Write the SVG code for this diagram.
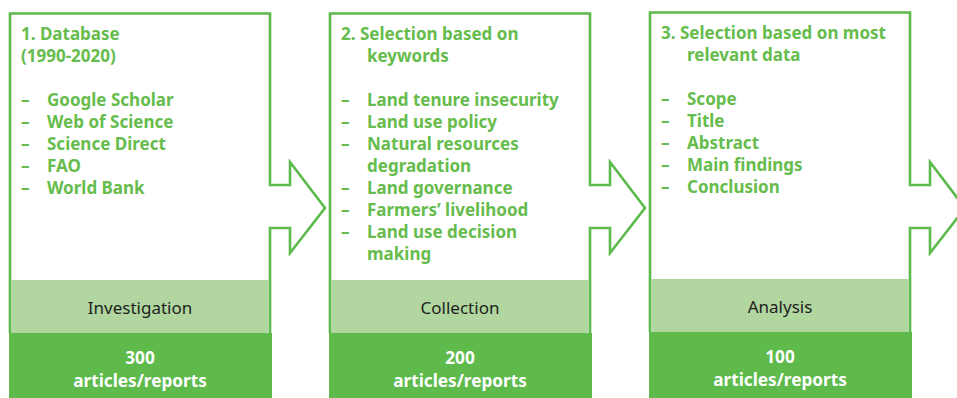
<svg xmlns="http://www.w3.org/2000/svg" width="957" height="398" viewBox="0 0 957 398">
<style>
.outline{fill:#fff;stroke:#5cb94b;stroke-width:2.6}
.light{fill:#b1d69f}
.dark{fill:#5dba4b}
.t{font-family:"Noto Sans","Open Sans",sans-serif;font-weight:bold;font-size:17px;fill:#66bc4c}
.lab{font-family:"Noto Sans","Open Sans",sans-serif;font-size:17px;fill:#1e1e1e;text-anchor:middle}
.num{font-family:"Noto Sans","Open Sans",sans-serif;font-weight:bold;font-size:17.2px;fill:#fff;text-anchor:middle}
</style>
<rect width="957" height="398" fill="#fff"/>
<g id="connectors"></g>
<g id="node1">
<path class="outline" d="M10,333 V13.5 H270 V185 H290 V162 L325,208 L290,253 V228 H270 V333"/>
<rect class="light" x="11.3" y="280" width="257.4" height="53"/>
<rect class="dark" x="9" y="333" width="263" height="65"/>
<text class="t" x="21" y="40">1. Database</text>
<text class="t" x="21" y="62">(1990-2020)</text>
<g class="t">
<text x="21" y="106">–</text><text x="47" y="106">Google Scholar</text>
<text x="21" y="128">–</text><text x="47" y="128">Web of Science</text>
<text x="21" y="150">–</text><text x="47" y="150">Science Direct</text>
<text x="21" y="172">–</text><text x="47" y="172">FAO</text>
<text x="21" y="194">–</text><text x="47" y="194">World Bank</text>
</g>
<text class="lab" x="140" y="314">Investigation</text>
<text class="num" x="140" y="364">300</text>
<text class="num" x="140" y="387">articles/reports</text>
</g>
<g id="node2">
<path class="outline" d="M330,333 V13.5 H590 V185 H610 V162 L645,208 L610,253 V228 H590 V333"/>
<rect class="light" x="331.3" y="280" width="257.4" height="53"/>
<rect class="dark" x="329" y="333" width="263" height="65"/>
<text class="t" x="341" y="40">2. Selection based on</text>
<text class="t" x="367" y="62">keywords</text>
<g class="t">
<text x="341" y="106">–</text><text x="367" y="106">Land tenure insecurity</text>
<text x="341" y="128">–</text><text x="367" y="128">Land use policy</text>
<text x="341" y="150">–</text><text x="367" y="150">Natural resources</text>
<text x="367" y="172">degradation</text>
<text x="341" y="194">–</text><text x="367" y="194">Land governance</text>
<text x="341" y="216">–</text><text x="367" y="216">Farmers’ livelihood</text>
<text x="341" y="238">–</text><text x="367" y="238">Land use decision</text>
<text x="367" y="260">making</text>
</g>
<text class="lab" x="460" y="314">Collection</text>
<text class="num" x="460" y="364">200</text>
<text class="num" x="460" y="387">articles/reports</text>
</g>
<g id="node3">
<path class="outline" d="M650,332 V12.5 H910 V185 H930 V162 L965,208 L930,253 V228 H910 V332"/>
<rect class="light" x="651.3" y="279" width="257.4" height="53"/>
<rect class="dark" x="649" y="332" width="263" height="66"/>
<text class="t" x="661" y="39">3. Selection based on most</text>
<text class="t" x="687" y="61">relevant data</text>
<g class="t">
<text x="661" y="105">–</text><text x="687" y="105">Scope</text>
<text x="661" y="127">–</text><text x="687" y="127">Title</text>
<text x="661" y="149">–</text><text x="687" y="149">Abstract</text>
<text x="661" y="171">–</text><text x="687" y="171">Main findings</text>
<text x="661" y="193">–</text><text x="687" y="193">Conclusion</text>
</g>
<text class="lab" x="780" y="313">Analysis</text>
<text class="num" x="780" y="363">100</text>
<text class="num" x="780" y="386">articles/reports</text>
</g>
</svg>
